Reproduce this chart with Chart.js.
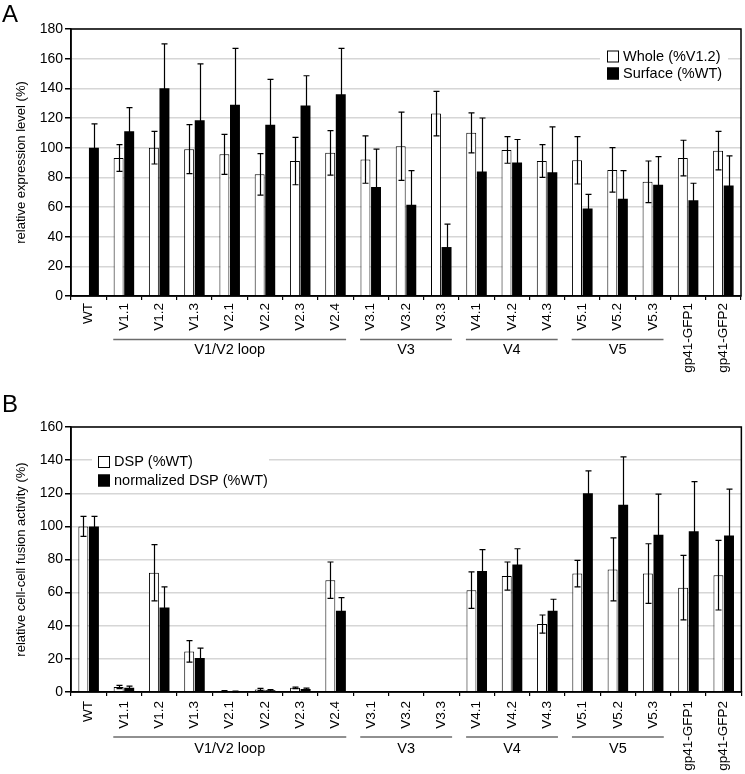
<!DOCTYPE html>
<html>
<head>
<meta charset="utf-8">
<script src="https://cdn.jsdelivr.net/npm/chart.js@4.4.1/dist/chart.umd.min.js"></script>
<style>
  body { margin: 0; background: #fff; }
  canvas { display: block; }
</style>
</head>
<body>
<canvas id="chartA" width="745" height="387"></canvas>
<canvas id="chartB" width="745" height="387"></canvas>
<script>
// categories shared by both panels
const categories = ['WT', 'V1.1', 'V1.2', 'V1.3', 'V2.1', 'V2.2', 'V2.3', 'V2.4',
  'V3.1', 'V3.2', 'V3.3', 'V4.1', 'V4.2', 'V4.3', 'V5.1', 'V5.2', 'V5.3',
  'gp41-GFP1', 'gp41-GFP2']

// groups under the x axis (index of first and last category)
const groupNames = ['V1/V2 loop', 'V3', 'V4', 'V5']
const groupFirst = [1, 8, 11, 14]
const groupLast = [7, 10, 13, 16]

// panel A: expression level
const wholeValues = [null, 93, 100, 99, 95.5, 82, 91, 96.5, 92, 101, 123, 110, 98.5, 91, 91.5, 85, 77, 93, 98]
const wholeErrors = [null, 9, 11, 16.5, 13.5, 14, 16, 15, 16, 23, 15, 13.5, 9, 11, 16, 15, 14, 12, 13]
const surfaceValues = [100, 111, 140, 118.5, 129, 115.5, 128.5, 136, 73.5, 61.5, 33, 84, 90, 83.5, 59, 65.5, 75, 64.5, 74.5]
const surfaceErrors = [16, 16, 30, 38, 38, 30.5, 20, 31, 25.5, 23, 15.5, 36, 15.5, 30.5, 9.5, 19, 19, 11.5, 20]
const yTicksA = { min: 0, max: 180, step: 20 }

// panel B: cell-cell fusion
const dspValues = [100, 3, 72, 24.5, 0.5, 1.5, 2.5, 67.5, 0, 0, 0, 61.5, 70, 41, 71.5, 74, 71.5, 63, 70.5]
const dspErrors = [6, 1, 17, 6.5, 0.3, 0.7, 0.5, 11, 0, 0, 0, 11, 8.5, 5.5, 8, 19, 18, 19.5, 21]
const normValues = [100, 2.5, 51, 20.5, 0.3, 1, 1.8, 49, 0, 0, 0, 73, 77, 49, 120, 113, 95, 97, 94.5]
const normErrors = [6, 1, 12.5, 6, 0.2, 0.5, 0.5, 8, 0, 0, 0, 13, 9.5, 7, 13.5, 29, 24.5, 30, 28]
const yTicksB = { min: 0, max: 160, step: 20 }

const FONT = "'Liberation Sans', Arial, sans-serif"
Chart.defaults.font.family = FONT
Chart.defaults.color = '#000'

// error bars drawn through the y scale
const errorBars = {
  id: 'errorBars',
  afterDatasetsDraw(chart) {
    const ctx = chart.ctx
    const yScale = chart.scales.y
    ctx.save()
    ctx.strokeStyle = '#000'
    ctx.lineWidth = 1.2
    chart.data.datasets.forEach((ds, i) => {
      const meta = chart.getDatasetMeta(i)
      meta.data.forEach((bar, j) => {
        const v = ds.data[j]
        const e = ds.errors[j]
        if (v === null || !e) return
        const top = yScale.getPixelForValue(v + e)
        const bottom = yScale.getPixelForValue(Math.max(v - e, 0))
        const x = Math.round(bar.x) + 0.5
        ctx.beginPath()
        ctx.moveTo(x, top)
        ctx.lineTo(x, bottom)
        ctx.moveTo(x - 3, top)
        ctx.lineTo(x + 3, top)
        ctx.moveTo(x - 3, bottom)
        ctx.lineTo(x + 3, bottom)
        ctx.stroke()
      })
    })
    ctx.restore()
  }
}

// box round the plot, group lines under the axis and panel letter
const decorations = {
  id: 'decorations',
  afterDraw(chart, args, opts) {
    const ctx = chart.ctx
    const area = chart.chartArea
    const xScale = chart.scales.x
    ctx.save()
    ctx.strokeStyle = '#000'
    ctx.lineWidth = 1.5
    ctx.strokeRect(area.left, area.top, area.right - area.left, area.bottom - area.top)

    const step = (xScale.right - xScale.left) / chart.data.labels.length
    ctx.font = '14.5px ' + FONT
    ctx.textAlign = 'center'
    ctx.textBaseline = 'alphabetic'
    ctx.fillStyle = '#000'
    groupNames.forEach((name, k) => {
      const x0 = xScale.getPixelForValue(groupFirst[k]) - step / 2 + 7
      const x1 = xScale.getPixelForValue(groupLast[k]) + step / 2 - 7
      ctx.strokeStyle = '#6b6b6b'
      ctx.lineWidth = 1.5
      ctx.beginPath()
      ctx.moveTo(x0, opts.lineY)
      ctx.lineTo(x1, opts.lineY)
      ctx.stroke()
      ctx.fillText(name, (x0 + x1) / 2, opts.textY)
    })

    ctx.font = '24px ' + FONT
    ctx.textAlign = 'left'
    ctx.fillText(opts.letter, 2, opts.letterY)
    ctx.restore()
  }
}

// legend with white background, drawn inside the plot
const boxLegend = {
  id: 'boxLegend',
  beforeDatasetsDraw(chart, args, opts) {
    const ctx = chart.ctx
    ctx.save()
    ctx.fillStyle = '#fff'
    ctx.fillRect(opts.x, opts.y, opts.w, opts.h)
    ctx.font = '14.5px ' + FONT
    ctx.textBaseline = 'middle'
    chart.data.datasets.forEach((ds, i) => {
      const rowY = opts.y + opts.first + i * opts.row
      ctx.fillStyle = ds.backgroundColor
      ctx.fillRect(opts.boxX, rowY - 6, 12, 12)
      ctx.strokeStyle = '#000'
      ctx.lineWidth = 1
      ctx.strokeRect(opts.boxX + 0.5, rowY - 5.5, 11, 11)
      ctx.fillStyle = '#000'
      ctx.fillText(ds.label, opts.boxX + 16, rowY)
    })
    ctx.restore()
  }
}

function makeChart(id, cfg) {
  return new Chart(document.getElementById(id), {
    type: 'bar',
    data: {
      labels: categories,
      datasets: [
        { label: cfg.labels[0], data: cfg.white, errors: cfg.whiteErr, backgroundColor: '#fff',
          borderColor: '#000', borderWidth: 1 },
        { label: cfg.labels[1], data: cfg.black, errors: cfg.blackErr, backgroundColor: '#000',
          borderColor: '#000', borderWidth: 0 }
      ]
    },
    options: {
      responsive: false,
      animation: false,
      devicePixelRatio: 1,
      categoryPercentage: 0.6,
      barPercentage: 0.94,
      layout: { padding: { top: cfg.top, right: cfg.right, left: 0, bottom: 0 } },
      plugins: {
        legend: { display: false },
        tooltip: { enabled: false },
        boxLegend: cfg.legend,
        decorations: cfg.deco
      },
      scales: {
        x: {
          grid: { display: true, drawOnChartArea: false, offset: true, tickLength: 4, tickColor: '#000', lineWidth: 1.2 },
          border: { display: true, color: '#000', width: 1.5 },
          ticks: { minRotation: 90, maxRotation: 90, autoSkip: false, padding: cfg.xPad,
            font: { size: 13.5 }, color: '#000' },
          afterFit(scale) { scale.height = cfg.xHeight }
        },
        y: {
          min: cfg.ticks.min,
          max: cfg.ticks.max,
          grid: { color: '#d6d6d6', lineWidth: 1.5, tickColor: '#000', tickLength: 6 },
          border: { display: true, color: '#000', width: 1.5 },
          ticks: { stepSize: cfg.ticks.step, padding: 2, font: { size: 14 }, color: '#000' },
          title: { display: true, text: cfg.yTitle, font: { size: 13 }, padding: { top: 14, bottom: 0 } },
          afterFit(scale) { scale.width = 71 }
        }
      }
    },
    plugins: [boxLegend, errorBars, decorations]
  })
}

makeChart('chartA', {
  labels: ['Whole (%V1.2)', 'Surface (%WT)'],
  white: wholeValues, whiteErr: wholeErrors,
  black: surfaceValues, blackErr: surfaceErrors,
  ticks: yTicksA,
  yTitle: 'relative expression level (%)',
  top: 29, right: 4, xHeight: 91, xPad: 3,
  legend: { x: 600, y: 44, w: 128, h: 40, boxX: 607, first: 12.5, row: 17 },
  deco: { lineY: 339.5, textY: 354, letter: 'A', letterY: 22 }
})

makeChart('chartB', {
  labels: ['DSP (%WT)', 'normalized DSP (%WT)'],
  white: dspValues, whiteErr: dspErrors,
  black: normValues, blackErr: normErrors,
  ticks: yTicksB,
  yTitle: 'relative cell-cell fusion activity (%)',
  top: 40, right: 3, xHeight: 82, xPad: 5,
  legend: { x: 92, y: 63, w: 177, h: 42, boxX: 98, first: 12, row: 18.5 },
  deco: { lineY: 350, textY: 366, letter: 'B', letterY: 25 }
})
</script>
</body>
</html>
